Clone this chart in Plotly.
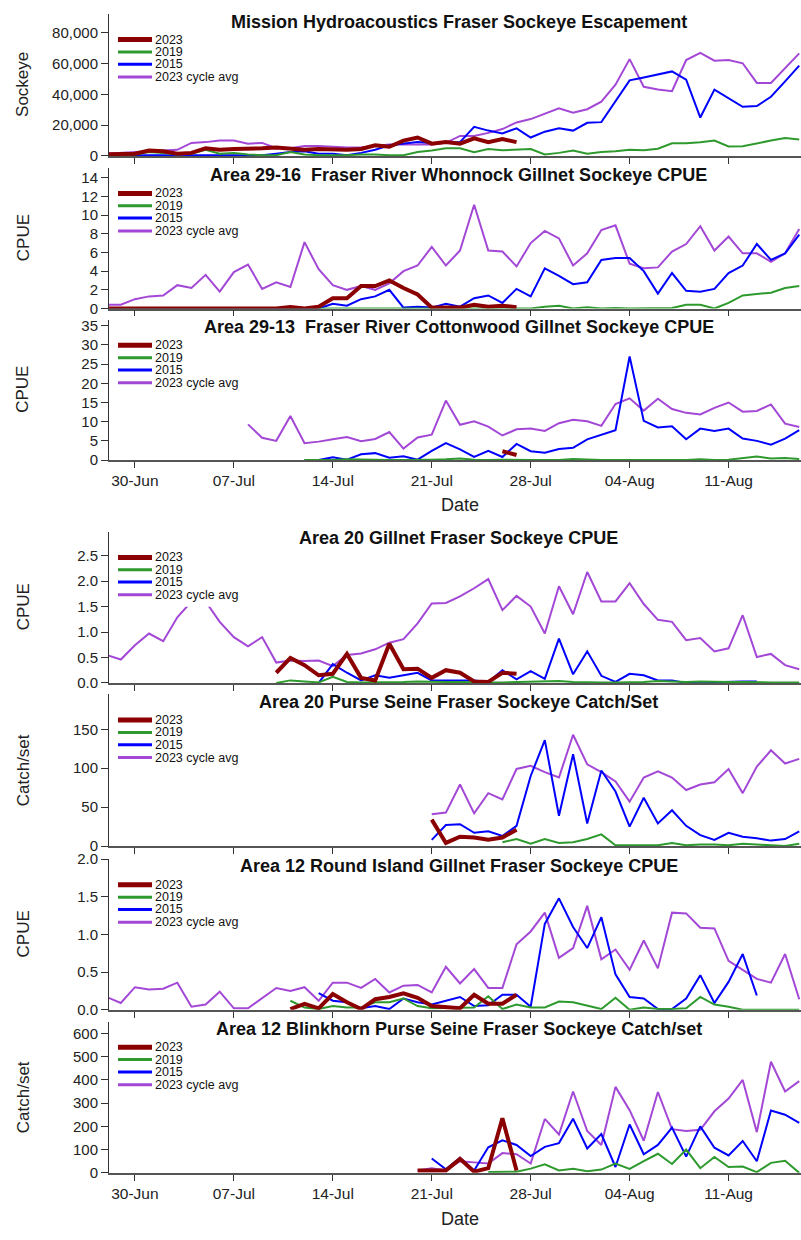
import pandas as pd
import plotly.graph_objects as go

# ---------------- data (daily values, index 0 = 28-Jun) ----------------
BASE = "2023-06-28"
SERIES_NAMES = ["2023", "2019", "2015", "2023 cycle avg"]

titles = [
    "Mission Hydroacoustics Fraser Sockeye Escapement",
    "Area 29-16  Fraser River Whonnock Gillnet Sockeye CPUE",
    "Area 29-13  Fraser River Cottonwood Gillnet Sockeye CPUE",
    "Area 20 Gillnet Fraser Sockeye CPUE",
    "Area 20 Purse Seine Fraser Sockeye Catch/Set",
    "Area 12 Round Island Gillnet Fraser Sockeye CPUE",
    "Area 12 Blinkhorn Purse Seine Fraser Sockeye Catch/set",
]
ytitles = ["Sockeye", "CPUE", "CPUE", "CPUE", "Catch/set", "CPUE", "Catch/set"]

# Panel 1: Mission escapement
p1_2023_start = 0
p1_2023 = [1000, 1500, 1500, 3500, 3000, 1500, 2000, 5000, 4000, 4500,
           4500, 5000, 5500, 4500, 4000, 4500, 4000, 4000, 4500, 7000,
           6000, 10000, 12000, 8000, 9000, 8000, 11500, 9000, 11000, 9000]
p1_2019_start = 0
p1_2019 = [500, 500, 1000, 2500, 2000, 1000, 1500, 4000, 1500, 2000,
           1000, 500, 500, 2500, 1000, 500, 500, 500, 1000, 1000,
           500, 500, 2500, 3500, 5000, 5000, 2500, 4500, 3700, 4000,
           4500, 1000, 2000, 3500, 1500, 2600, 3000, 4000, 3700, 4700,
           8300, 8300, 8900, 10000, 6200, 6300, 8300, 10000, 11700, 10700]
p1_2015_start = 0
p1_2015 = [500, 500, 500, 500, 500, 500, 500, 500, 500, 500,
           500, 500, 1500, 2500, 3000, 1500, 1500, 500, 2000, 4000,
           7000, 8000, 9000, 8500, 8500, 9000, 19000, 16500, 14700, 18000,
           12000, 15800, 18000, 16500, 21600, 22000, 35700, 49200, 51000, 53000,
           55000, 49600, 25000, 43200, 37800, 32000, 32500, 38500, 48500, 58800]
p1_avg_start = 0
p1_avg = [1500, 2000, 2500, 3000, 3500, 4000, 8500, 9000, 10000, 10000,
          8000, 8500, 5000, 5000, 6500, 6500, 6000, 5500, 5500, 6500,
          7500, 7500, 7500, 7500, 8500, 13000, 13000, 15000, 17500, 21800,
          24000, 27600, 31000, 28200, 30400, 35300, 46400, 63000, 45000, 43200,
          42100, 62400, 67100, 62000, 62400, 60300, 47500, 47500, 57000, 66700]

# Panel 2: Whonnock
p2_2023_start = 0
p2_2023 = [0, 0, 0.05, 0, 0, 0.05, 0.1, 0.1, 0, 0,
           0, 0, 0, 0.15, 0, 0.2, 1.1, 1.1, 2.4, 2.4,
           3.0, 2.2, 1.5, 0.1, 0.1, 0.1, 0.4, 0.2, 0.3, 0.15]
p2_2019_start = 0
p2_2019 = [0, 0, 0, 0, 0, 0, 0, 0, 0, 0,
           0, 0, 0, 0, 0, 0, 0, 0, 0, 0,
           0, 0, 0, 0, 0, 0, 0, 0, 0, 0,
           0, 0.2, 0.3, 0, 0.15, 0, 0.05, 0, 0, 0,
           0.05, 0.4, 0.4, 0, 0.6, 1.4, 1.55, 1.7, 2.2, 2.4]
p2_2015_start = 0
p2_2015 = [0, 0, 0, 0, 0, 0, 0, 0, 0, 0,
           0, 0, 0, 0, 0, 0, 0.5, 0.3, 1.0, 1.3,
           2.0, 0.1, 0.2, 0.1, 0.5, 0.2, 1.1, 1.4, 0.6, 2.1,
           1.3, 4.3, 3.5, 2.6, 2.8, 5.2, 5.4, 5.4, 4.0, 1.6,
           3.8, 1.9, 1.8, 2.1, 3.8, 4.6, 6.9, 5.2, 5.9, 7.9]
p2_avg_start = 0
p2_avg = [0.4, 0.4, 1.0, 1.3, 1.4, 2.5, 2.2, 3.6, 1.8, 3.9,
          4.7, 2.1, 2.8, 2.3, 7.1, 4.2, 2.5, 2.0, 2.4, 2.0,
          2.7, 4.0, 4.6, 6.6, 4.6, 6.2, 11.1, 6.2, 6.1, 4.5,
          7.0, 8.3, 7.5, 4.6, 5.9, 8.4, 8.9, 4.8, 4.3, 4.4,
          6.1, 6.9, 8.8, 6.2, 7.7, 5.9, 5.9, 5.0, 5.9, 8.5]

# Panel 3: Cottonwood
p3_2023_start = 28
p3_2023 = [2.3, 1.3]
p3_2019_start = 14
p3_2019 = [0, 0, 0, 0.2, 0.1, 0, 0, 0, 0, 0.1,
           0.2, 0.4, 0.1, 0, 0.1, 0, 0, 0, 0, 0.3,
           0.1, 0, 0, 0, 0, 0, 0, 0, 0.2, 0,
           0.1, 0.5, 0.9, 0.4, 0.5, 0.3]
p3_2015_start = 14
p3_2015 = [0, 0, 0.7, 0.1, 1.5, 1.8, 0.6, 1.0, 0.1, 2.4,
           4.4, 2.8, 0.8, 2.4, 0.8, 4.2, 2.3, 1.9, 2.9, 3.2,
           5.4, 6.7, 7.8, 27.0, 10.2, 8.5, 8.8, 5.4, 8.2, 7.6,
           8.2, 5.6, 5.0, 4.0, 5.6, 7.8]
p3_avg_start = 10
p3_avg = [9.3, 5.8, 5.0, 11.5, 4.4, 4.8, 5.4, 6.0, 4.9, 5.5,
          7.3, 3.0, 5.9, 6.6, 15.5, 9.2, 10.1, 8.7, 6.4, 8.0,
          8.2, 7.6, 9.6, 10.5, 10.1, 8.9, 14.6, 16.1, 12.9, 16.0,
          13.3, 12.3, 11.9, 13.6, 15.0, 12.6, 12.8, 14.5, 9.5, 8.6]

# Panel 4: Area 20 gillnet
p4_2023_start = 12
p4_2023 = [0.2, 0.49, 0.35, 0.15, 0.18, 0.57, 0.1, 0.05, 0.77, 0.27,
           0.28, 0.1, 0.25, 0.2, 0.03, 0.02, 0.2, 0.18]
p4_2019_start = 12
p4_2019 = [0.0, 0.05, 0.03, 0.01, 0.12, 0.02, 0.01, 0.01, 0.02, 0.02,
           0.03, 0.02, 0.02, 0.02, 0.01, 0.01, 0.01, 0.02, 0.02, 0.03,
           0.04, 0.02, 0.01, 0.01, 0.01, 0.01, 0.02, 0.04, 0.03, 0.02,
           0.03, 0.02, 0.02, 0.02, 0.01, 0.01, 0.01, 0.01]
p4_2015_start = 15
p4_2015 = [0.0, 0.37, 0.2, 0.05, 0.15, 0.1, 0.15, 0.2, 0.05, 0.05,
           0.04, 0.05, 0.02, 0.25, 0.07, 0.23, 0.08, 0.87, 0.17, 0.62,
           0.14, 0.02, 0.18, 0.15, 0.05, 0.05, 0.0, 0.01, 0.01, 0.02,
           0.03, 0.03]
p4_avg_start = 0
p4_avg = [0.55, 0.46, 0.74, 0.97, 0.82, 1.29, 1.6, 1.6, 1.2, 0.9,
          0.72, 0.9, 0.4, 0.44, 0.43, 0.44, 0.33, 0.55, 0.58, 0.66,
          0.79, 0.86, 1.17, 1.56, 1.57, 1.7, 1.86, 2.04, 1.43, 1.71,
          1.5, 0.97, 1.9, 1.35, 2.18, 1.6, 1.6, 1.96, 1.55, 1.24,
          1.2, 0.84, 0.88, 0.62, 0.68, 1.33, 0.51, 0.57, 0.35, 0.27]

# Panel 5: Area 20 purse seine
p5_2023_start = 23
p5_2023 = [34, 4, 12, 11, 8, 11, 21]
p5_2019_start = 28
p5_2019 = [5, 9, 3, 9, 4, 5, 9, 15, 1, 1,
           1, 1, 4, 1, 2, 2, 1, 3, 2, 1,
           0, 3]
p5_2015_start = 23
p5_2015 = [8, 27, 28, 17, 19, 13, 26, 90, 136, 39,
           118, 29, 97, 70, 25, 62, 29, 46, 26, 14,
           8, 17, 12, 10, 7, 9, 19]
p5_avg_start = 23
p5_avg = [41, 43, 79, 42, 68, 60, 99, 103, 95, 88,
          143, 105, 95, 83, 57, 88, 96, 88, 72, 79,
          82, 99, 68, 102, 123, 106, 112]

# Panel 6: Round Island gillnet
p6_2023_start = 13
p6_2023 = [0.01, 0.08, 0.02, 0.21, 0.1, 0.01, 0.14, 0.17, 0.22, 0.16,
           0.05, 0.04, 0.02, 0.2, 0.08, 0.08, 0.2]
p6_2019_start = 13
p6_2019 = [0.12, 0.03, 0.01, 0.05, 0.03, 0.03, 0.1, 0.1, 0.15, 0.05,
           0.02, 0.02, 0.03, 0.03, 0.18, 0.01, 0.07, 0.03, 0.03, 0.11,
           0.1, 0.06, 0.01, 0.16, 0.0, 0.03, 0.01, 0.01, 0.02, 0.17,
           0.07, 0.04, 0.0, 0.0, 0.0, 0.0, 0.0]
p6_2015_start = 15
p6_2015 = [0.22, 0.12, 0.1, 0.02, 0.05, 0.01, 0.15, 0.1, 0.07, 0.12,
           0.17, 0.05, 0.06, 0.2, 0.2, 0.04, 1.14, 1.48, 1.1, 0.82,
           1.23, 0.47, 0.17, 0.15, 0.01, 0.01, 0.15, 0.46, 0.09, 0.37,
           0.74, 0.19]
p6_avg_start = 0
p6_avg = [0.17, 0.09, 0.3, 0.27, 0.28, 0.36, 0.04, 0.07, 0.24, 0.02,
          0.02, 0.15, 0.29, 0.25, 0.3, 0.12, 0.36, 0.36, 0.29, 0.41,
          0.23, 0.32, 0.33, 0.23, 0.57, 0.35, 0.54, 0.29, 0.29, 0.87,
          1.04, 1.29, 0.69, 0.82, 1.38, 0.67, 0.8, 0.53, 0.92, 0.55,
          1.29, 1.28, 1.09, 1.08, 0.65, 0.53, 0.41, 0.36, 0.74, 0.14]

# Panel 7: Blinkhorn purse seine
p7_2023_start = 22
p7_2023 = [10, 10, 10, 60, 5, 20, 235, 10]
p7_2019_start = 27
p7_2019 = [3, 3, 5, 18, 37, 10, 17, 7, 14, 40,
           17, 50, 82, 38, 100, 20, 68, 25, 27, 3,
           43, 52, 0]
p7_2015_start = 23
p7_2015 = [62, 15, 65, 10, 110, 140, 120, 72, 112, 128,
           233, 105, 167, 25, 208, 80, 120, 195, 70, 200,
           108, 75, 137, 50, 268, 250, 215]
p7_avg_start = 22
p7_avg = [10, 20, 10, 50, 45, 40, 85, 80, 40, 232,
          165, 350, 180, 120, 370, 270, 138, 348, 188, 180,
          185, 265, 320, 400, 175, 478, 350, 395]

y_tickvals = [
    [0, 20000, 40000, 60000, 80000],
    [0, 2, 4, 6, 8, 10, 12, 14],
    [0, 5, 10, 15, 20, 25, 30, 35],
    [0.0, 0.5, 1.0, 1.5, 2.0, 2.5],
    [0, 50, 100, 150],
    [0.0, 0.5, 1.0, 1.5, 2.0],
    [0, 100, 200, 300, 400, 500, 600],
]
y_tickformat = [",d", "d", "d", ".1f", "d", ".1f", "d"]
y_max = [92400, 15.05, 36.6, 2.97, 194.7, 2.0, 651]

panels = [
    [(p1_2023_start, p1_2023), (p1_2019_start, p1_2019), (p1_2015_start, p1_2015), (p1_avg_start, p1_avg)],
    [(p2_2023_start, p2_2023), (p2_2019_start, p2_2019), (p2_2015_start, p2_2015), (p2_avg_start, p2_avg)],
    [(p3_2023_start, p3_2023), (p3_2019_start, p3_2019), (p3_2015_start, p3_2015), (p3_avg_start, p3_avg)],
    [(p4_2023_start, p4_2023), (p4_2019_start, p4_2019), (p4_2015_start, p4_2015), (p4_avg_start, p4_avg)],
    [(p5_2023_start, p5_2023), (p5_2019_start, p5_2019), (p5_2015_start, p5_2015), (p5_avg_start, p5_avg)],
    [(p6_2023_start, p6_2023), (p6_2019_start, p6_2019), (p6_2015_start, p6_2015), (p6_avg_start, p6_avg)],
    [(p7_2023_start, p7_2023), (p7_2019_start, p7_2019), (p7_2015_start, p7_2015), (p7_avg_start, p7_avg)],
]

# ---------------- styling ----------------
W, H = 801, 1240
FONT = "Liberation Sans, Arial, Helvetica, sans-serif"
COLORS = ["#8B0000", "#2E9A2E", "#0000FF", "#A348D6"]
WIDTHS = [4, 2, 2, 2]
LEG_WIDTHS = [5, 3, 3, 3]
DRAW_ORDER = [3, 2, 1, 0]

# panel pixel boxes (top, bottom)
boxes = [(5, 149), (161, 303.7), (315, 457.3), (530, 683.3),
         (695, 848.7), (862, 1014.7), (1026.7, 1180)]
title_y = [13, 168.3, 322.7, 536.7, 702.3, 869, 1034]
X_LEFT = 109
XRANGE = ["2023-06-28 04:00", "2023-08-16 03:00"]


def px(x):
    return x / W


def py(y):
    return 1 - y / H


def dates(start, n):
    return pd.Timestamp(BASE) + pd.to_timedelta(list(range(start, start + n)), unit="D")


fig = go.Figure()
for k, series in enumerate(panels, start=1):
    for s in DRAW_ORDER:
        start, vals = series[s]
        fig.add_trace(go.Scatter(
            x=dates(start, len(vals)), y=vals, mode="lines",
            name=SERIES_NAMES[s], showlegend=False,
            line=dict(color=COLORS[s], width=WIDTHS[s]),
            xaxis=f"x{k}", yaxis=f"y{k}",
        ))

layout = dict(
    width=W, height=H, margin=dict(l=0, r=0, t=0, b=0),
    paper_bgcolor="white", plot_bgcolor="white",
    font=dict(family=FONT, color="#222"), showlegend=False,
)
shapes = []
annotations = []
for k in range(1, 8):
    top, bot = boxes[k - 1]
    sfx = "" if k == 1 else str(k)
    layout[f"xaxis{sfx}"] = dict(
        domain=[px(X_LEFT), 1], range=XRANGE, type="date",
        tick0="2023-06-30", dtick=7 * 86400000, tickformat="%d-%b",
        ticks="outside", ticklen=6, tickcolor="#333", tickwidth=1,
        showline=True, linecolor="#555", linewidth=1.5,
        showgrid=False, zeroline=False, anchor=f"y{k}",
        showticklabels=(k in (3, 7)), tickfont=dict(size=15.5, color="#222"),
        fixedrange=True,
    )
    layout[f"yaxis{sfx}"] = dict(
        domain=[py(bot), py(top)], range=[0, y_max[k - 1]],
        tickvals=y_tickvals[k - 1], tickformat=y_tickformat[k - 1],
        ticks="outside", ticklen=7, tickcolor="#333",
        showline=True, linecolor="#333", linewidth=1,
        showgrid=False, zeroline=False, anchor=f"x{k}",
        tickfont=dict(size=15, color="#222"), fixedrange=True,
    )
    # panel title
    annotations.append(dict(
        text=f"<b>{titles[k - 1]}</b>", x=px(459), y=py(title_y[k - 1]),
        xref="paper", yref="paper", xanchor="center", yanchor="middle",
        showarrow=False, font=dict(size=18, color="#111"),
    ))
    # y axis title
    annotations.append(dict(
        text=ytitles[k - 1], x=px(23), y=py((top + bot) / 2),
        xref="paper", yref="paper", xanchor="center", yanchor="middle",
        textangle=-90, showarrow=False, font=dict(size=17, color="#222"),
    ))
    # legend (manual, inside top-left)
    shapes.append(dict(
        type="rect", xref="paper", yref="paper",
        x0=px(113), x1=px(240), y0=py(top + 76), y1=py(top + 19),
        fillcolor="white", line=dict(width=0), layer="above",
    ))
    for j, off in enumerate([26, 38.5, 51, 64]):
        shapes.append(dict(
            type="line", xref="paper", yref="paper",
            x0=px(118), x1=px(152), y0=py(top + off), y1=py(top + off),
            line=dict(color=COLORS[j], width=LEG_WIDTHS[j]), layer="above",
        ))
        annotations.append(dict(
            text=SERIES_NAMES[j], x=px(153), y=py(top + off),
            xref="paper", yref="paper", xanchor="left", yanchor="middle",
            showarrow=False, font=dict(size=12.5, color="#111"),
        ))

for yc in (503, 1226.7):
    annotations.append(dict(
        text="Date", x=px(460), y=py(yc), xref="paper", yref="paper",
        xanchor="center", yanchor="middle", showarrow=False,
        font=dict(size=18, color="#222"),
    ))

layout["shapes"] = shapes
layout["annotations"] = annotations
fig.update_layout(**layout)
fig.write_html(
    "out.html",
    config={"displayModeBar": False},
    post_script="document.body.style.margin='0';"
                "document.documentElement.style.overflow='hidden';",
)
